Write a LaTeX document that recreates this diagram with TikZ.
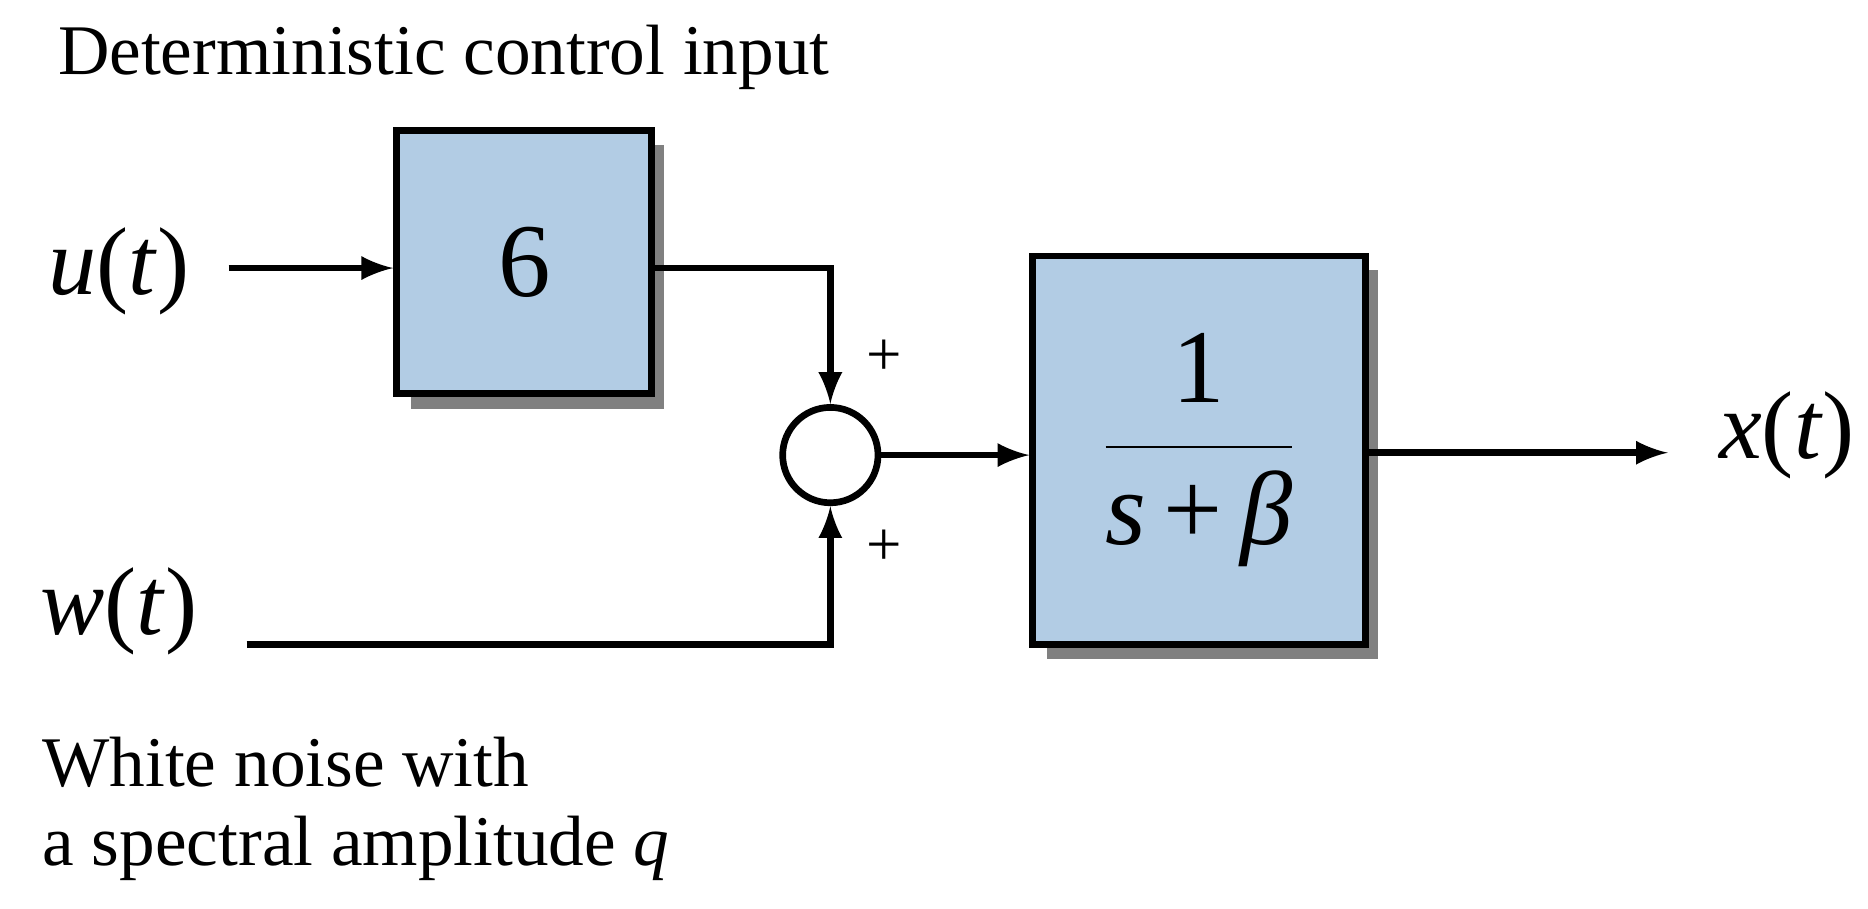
\documentclass[tikz,border=0pt]{standalone}
\usepackage{fontspec}
\setmainfont{Liberation Serif}
\usetikzlibrary{calc}
\tikzstyle{block}=[draw,line width=1.6pt,fill={rgb,255:red,178;green,204;blue,228},inner sep=0pt]
\tikzstyle{shade}=[fill=black!50,draw=none]
\tikzstyle{sig}=[line width=1.6pt]
\tikzstyle{lbl}=[font=\fontsize{23}{26}\selectfont,inner sep=0pt]
\tikzstyle{txt}=[font=\fontsize{17}{20}\selectfont,inner sep=0pt,anchor=west]
\begin{document}
\begin{tikzpicture}[x=0.01cm,y=-0.01cm,>=latex]
\useasboundingbox (0,0) rectangle (1568,763);
% texts
\node[txt] (title) at (48,48) {Deterministic control input};
\node[txt] (noise1) at (35,640) {White noise with};
\node[txt] (noise2) at (35,712) {a spectral amplitude \textit{q}};
\node[lbl] (u) at (100,228) {\textit{u}(\textit{t})};
\node[lbl] (w) at (100,513) {\textit{w}(\textit{t})};
\node[lbl] (x) at (1500,365) {\textit{x}(\textit{t})};
% blocks
\fill[shade] (345,122) rectangle (557,343);
\node[block,minimum width=2.14cm,minimum height=2.21cm] (gain) at (440,220) {\fontsize{25}{28}\selectfont 6};
\fill[shade] (879,227) rectangle (1157,553);
\node[block,minimum width=2.79cm,minimum height=3.26cm] (plant) at (1006.5,378)
  {\fontsize{25}{30}\selectfont$\displaystyle\frac{\textrm{1}}{\textit{s}\,\textrm{+}\,\textit{β}}$};
\node[draw,line width=1.6pt,circle,minimum size=0.8cm,inner sep=0pt] (sum) at (697,382) {};
\node[font=\fontsize{15}{18}\selectfont] (p1) at (742,300) {+};
\node[font=\fontsize{15}{18}\selectfont] (p2) at (742,460) {+};
% points
\coordinate (ustart) at (192,225);
\coordinate (wstart) at (207,541);
\coordinate (xend) at (1400,380);
% signals
\draw[sig,->] (ustart) -- (gain.west |- ustart);
\draw[sig,->] (gain.east |- ustart) -- (697,225) -- (sum.north);
\draw[sig,->] (wstart) -- (697,541) -- (sum.south);
\draw[sig,->] (sum.east) -- (plant.west |- sum.east);
\draw[sig,->] (plant.east |- xend) -- (xend);
\end{tikzpicture}
\end{document}
